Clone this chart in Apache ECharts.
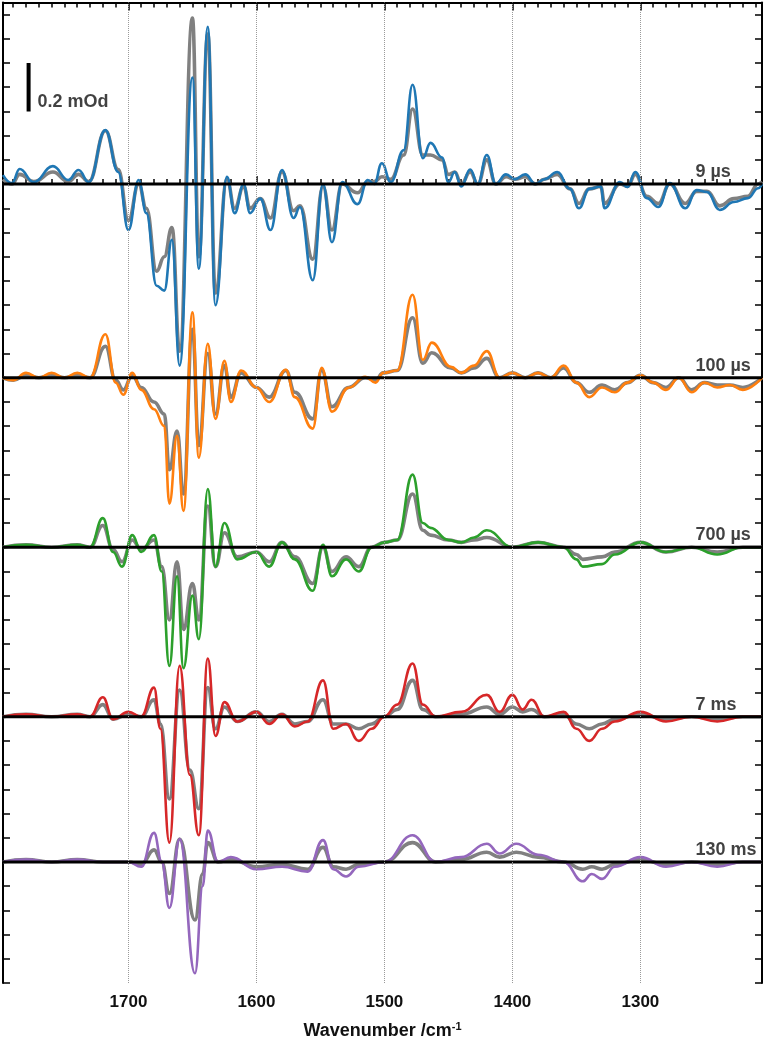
<!DOCTYPE html>
<html><head><meta charset="utf-8">
<script src="https://cdn.jsdelivr.net/npm/echarts@6/dist/echarts.min.js"></script>
<style>html,body{margin:0;padding:0;background:#fff}#c{width:764px;height:1045px}</style>
</head><body><div id="c"></div>
<script>
// ---- data ----
const delays = ['9 µs', '100 µs', '700 µs', '7 ms', '130 ms'];
const offsets = [0, -0.8, -1.5, -2.2, -2.8];          // baseline of each trace (mOd)
const gridWavenumbers = [1700, 1600, 1500, 1400, 1300];
const tickLabels = [1700, 1600, 1500, 1400, 1300];

const wn9 = [1798,1791,1785,1774,1759,1747,1739,1731,1718,1708,1700,1692,1686,1678,1672,1666,1660,1650,1645,1638,1632,1623,1617,1610,1605,1597,1589,1580,1571,1566,1556,1548,1541,1533,1521,1513,1508,1502,1495,1485,1478,1470,1464,1455,1450,1445,1440,1433,1427,1420,1413,1405,1398,1390,1382,1375,1365,1355,1348,1340,1331,1328,1316,1310,1304,1295,1286,1277,1265,1256,1248,1238,1227,1216,1208,1205];
const col9 = [0.037,0.004,0.062,0.008,0.074,0.017,0.058,0.008,0.223,0.05,-0.19,0.017,-0.12,-0.42,-0.44,-0.23,-0.75,0.44,-0.35,0.65,-0.50,0.03,-0.12,0.0,-0.12,-0.06,-0.19,0.058,-0.14,-0.095,-0.397,0.0,-0.24,0.008,-0.083,0.017,0.0,0.086,0.008,0.14,0.41,0.107,0.17,0.11,0.008,0.05,-0.01,0.06,0.0,0.12,0.0,0.04,0.02,0.04,0.0,0.02,0.05,-0.02,-0.1,-0.02,-0.01,-0.1,0.008,-0.012,0.05,-0.058,-0.095,0.004,-0.1,-0.025,-0.033,-0.107,-0.074,-0.058,-0.017,0.0];
const gray9 = [0.02,0.0,0.04,0.01,0.05,0.01,0.04,0.01,0.22,0.06,-0.15,0.0,-0.10,-0.36,-0.30,-0.18,-0.69,0.686,-0.3,0.62,-0.45,0.02,-0.10,-0.01,-0.1,-0.06,-0.14,0.05,-0.11,-0.09,-0.31,-0.01,-0.19,0.0,-0.036,0.01,0.01,0.03,0.02,0.12,0.31,0.12,0.12,0.1,0.04,0.05,0.0,0.05,0.0,0.1,0.0,0.03,0.02,0.03,0.0,0.02,0.04,-0.02,-0.08,-0.02,-0.01,-0.08,0.0,-0.01,0.04,-0.05,-0.08,0.0,-0.08,-0.03,-0.03,-0.09,-0.06,-0.05,0.0,0.01];

const wn100 = [1798,1790,1780,1770,1760,1750,1740,1730,1718,1710,1704,1697,1690,1680,1672,1668,1662,1657,1650,1645,1638,1632,1625,1620,1612,1600,1590,1577,1570,1556,1549,1541,1528,1515,1507,1501,1490,1478,1470,1463,1448,1440,1430,1420,1410,1400,1390,1380,1370,1360,1350,1340,1330,1320,1310,1300,1290,1280,1270,1260,1250,1240,1230,1220,1205];
const col100 = [0.0,-0.01,0.02,0.0,0.02,0.0,0.02,0.0,0.18,-0.02,-0.07,0.02,-0.05,-0.13,-0.2,-0.52,-0.24,-0.55,0.27,-0.33,0.14,-0.17,0.07,-0.1,0.03,-0.04,-0.1,0.033,-0.08,-0.21,0.041,-0.14,-0.041,0.004,-0.02,0.02,0.03,0.343,0.074,0.145,0.045,0.02,0.05,0.11,0.0,0.02,0.0,0.02,0.0,0.05,-0.02,-0.08,-0.04,-0.06,-0.02,0.01,-0.02,-0.05,0.0,-0.06,-0.02,-0.04,-0.03,-0.05,0.0];
const gray100 = [0.0,-0.01,0.01,0.0,0.01,0.0,0.01,0.0,0.13,-0.01,-0.05,0.01,-0.04,-0.1,-0.15,-0.38,-0.22,-0.48,0.2,-0.28,0.1,-0.15,0.05,-0.08,0.02,-0.04,-0.08,0.03,-0.06,-0.17,0.03,-0.12,-0.04,0.0,-0.01,0.02,0.03,0.248,0.06,0.103,0.04,0.02,0.04,0.08,0.0,0.02,0.0,0.02,0.0,0.04,-0.02,-0.06,-0.03,-0.05,-0.02,0.01,-0.02,-0.04,0.0,-0.05,-0.02,-0.03,-0.03,-0.04,0.0];

const wn700 = [1798,1780,1760,1740,1730,1720,1712,1705,1697,1690,1680,1674,1668,1662,1657,1650,1645,1638,1632,1625,1615,1600,1590,1580,1570,1556,1548,1541,1530,1520,1510,1500,1490,1478,1470,1464,1450,1440,1430,1420,1400,1380,1360,1350,1345,1330,1320,1300,1280,1260,1240,1220,1205];
const col700 = [0.0,0.01,0.0,0.01,0.0,0.12,-0.02,-0.08,0.05,-0.02,0.05,-0.1,-0.49,-0.12,-0.5,-0.2,-0.38,0.24,-0.08,0.1,-0.05,-0.02,-0.08,0.02,-0.05,-0.18,0.01,-0.12,-0.05,-0.1,0.0,0.02,0.03,0.3,0.1,0.08,0.03,0.02,0.04,0.07,0.0,0.02,0.0,-0.05,-0.08,-0.07,-0.03,0.02,-0.02,0.0,-0.03,0.0,0.0];
const gray700 = [0.0,0.01,0.0,0.01,0.0,0.09,-0.01,-0.06,0.03,-0.01,0.03,-0.08,-0.3,-0.06,-0.34,-0.15,-0.3,0.17,-0.08,0.06,-0.04,-0.02,-0.06,0.02,-0.04,-0.15,0.0,-0.1,-0.04,-0.08,0.0,0.02,0.03,0.22,0.07,0.05,0.03,0.02,0.03,0.04,0.0,0.02,0.0,-0.03,-0.05,-0.04,-0.02,0.02,-0.02,0.0,-0.02,0.0,0.0];

const wn7 = [1798,1780,1760,1740,1730,1720,1712,1700,1690,1680,1675,1668,1660,1652,1645,1638,1632,1625,1615,1600,1590,1580,1570,1560,1548,1540,1530,1520,1510,1500,1490,1478,1470,1460,1440,1420,1410,1400,1392,1385,1375,1360,1350,1340,1330,1320,1300,1280,1260,1240,1220,1205];
const col7 = [0.0,0.01,0.0,0.01,0.0,0.08,-0.01,0.02,0.0,0.12,-0.05,-0.52,0.21,-0.24,-0.49,0.24,-0.08,0.06,-0.02,0.02,-0.03,0.01,-0.04,-0.02,0.15,-0.05,-0.03,-0.1,-0.05,0.0,0.05,0.22,0.05,0.0,0.02,0.09,0.02,0.09,0.03,0.07,0.0,0.02,-0.05,-0.1,-0.05,-0.02,0.02,-0.02,0.0,-0.02,0.0,0.0];
const gray7 = [0.0,0.01,0.0,0.01,0.0,0.05,-0.01,0.01,0.0,0.07,-0.03,-0.34,0.11,-0.22,-0.38,0.12,-0.05,0.04,-0.02,0.02,-0.02,0.01,-0.03,-0.02,0.07,-0.03,-0.03,-0.05,-0.03,0.0,0.03,0.15,0.03,0.0,0.01,0.04,0.01,0.04,0.02,0.03,0.0,0.01,-0.03,-0.05,-0.03,-0.01,0.01,-0.01,0.0,-0.01,0.0,0.0];

const wn130 = [1798,1780,1760,1740,1720,1700,1690,1680,1674,1668,1660,1648,1642,1638,1630,1620,1600,1580,1560,1548,1540,1530,1520,1500,1478,1460,1440,1420,1410,1397,1380,1360,1345,1338,1330,1320,1300,1280,1260,1240,1220,1205];
const col130 = [0.0,0.01,0.0,0.01,0.0,0.0,-0.02,0.12,0.0,-0.19,0.095,-0.46,-0.1,0.13,0.0,0.02,-0.03,-0.02,-0.04,0.09,-0.03,-0.06,-0.02,0.0,0.11,0.0,0.02,0.075,0.035,0.075,0.03,0.0,-0.08,-0.05,-0.07,-0.02,0.02,-0.02,0.0,-0.02,0.0,0.0];
const gray130 = [0.0,0.01,0.0,0.01,0.0,0.0,-0.01,0.05,0.0,-0.13,0.095,-0.24,-0.05,0.08,0.0,0.01,-0.02,-0.01,-0.03,0.06,-0.02,-0.03,-0.01,0.0,0.08,0.0,0.01,0.04,0.02,0.04,0.02,0.0,-0.03,-0.02,-0.03,-0.01,0.01,-0.01,0.0,-0.01,0.0,0.0];

const traces = [[wn9, col9, gray9], [wn100, col100, gray100], [wn700, col700, gray700], [wn7, col7, gray7], [wn130, col130, gray130]];
const scaleBar = [0.3, 0.5];   // 0.2 mOd
// ---- styles ----
const colors = ['#1f77b4', '#ff7f0e', '#2ca02c', '#d62728', '#9467bd'];
const GRAY = '#808080';
const X_MIN = 1205, X_MAX = 1798, Y_MIN = -3.3, Y_MAX = 0.75;
const FONT = 'Liberation Sans, Arial, sans-serif';

const minorTicks = [];
for (let w = 1210; w <= 1790; w += 10) minorTicks.push(w);

function xAx(pos, major, withLabel) {
  return {
    type: 'value', position: pos, min: X_MIN, max: X_MAX, inverse: true,
    axisLine: { show: major, lineStyle: { color: '#000', width: 2 } },
    axisTick: { show: true, inside: true, length: major ? 8 : 5, lineStyle: { color: '#000', width: 1.5 },
      customValues: major ? tickLabels : minorTicks },
    axisLabel: { show: withLabel, customValues: tickLabels, color: '#111', fontFamily: FONT,
      fontWeight: 'bold', fontSize: 17, margin: 11, formatter: v => String(v) },
    splitLine: { show: false },
    name: withLabel ? '{a|Wavenumber /cm}{s|-1}' : '',
    nameLocation: 'middle', nameGap: 38,
    nameTextStyle: { rich: {
      a: { fontFamily: FONT, fontWeight: 'bold', fontSize: 18, color: '#111', lineHeight: 20 },
      s: { fontFamily: FONT, fontWeight: 'bold', fontSize: 11, color: '#111', verticalAlign: 'top', lineHeight: 20, padding: [0,0,8,0] }
    } }
  };
}
function yAx(pos) {
  return {
    type: 'value', position: pos, min: Y_MIN, max: Y_MAX, interval: 0.1,
    axisLine: { show: true, lineStyle: { color: '#000', width: 2 } },
    axisTick: { show: true, inside: true, length: 7, lineStyle: { color: '#000', width: 1.5 } },
    axisLabel: { show: false }, splitLine: { show: false }
  };
}

const series = [];
series.push({ type: 'line', data: [], xAxisIndex: 0, yAxisIndex: 0, silent: true,
  markLine: { silent: true, symbol: 'none', label: { show: false },
    lineStyle: { type: 'dotted', color: '#9a9a9a', width: 1 },
    data: gridWavenumbers.map(w => ({ xAxis: w })) } });

traces.forEach(([wn, col, gr], i) => {
  const off = offsets[i];
  series.push({ type: 'line', smooth: 0.45, smoothMonotone: 'x', showSymbol: false, symbol: 'none', z: 2,
    lineStyle: { color: GRAY, width: 3.6 }, data: wn.map((w, k) => [w, gr[k] + off]) });
  series.push({ type: 'line', smooth: 0.45, smoothMonotone: 'x', showSymbol: false, symbol: 'none', z: 3,
    lineStyle: { color: colors[i], width: 2.6 }, data: wn.map((w, k) => [w, col[k] + off]) });
  series.push({ type: 'line', showSymbol: false, symbol: 'none', z: 4,
    lineStyle: { color: '#000', width: 3 }, data: [[X_MAX, off], [X_MIN, off]] });
  series.push({ type: 'scatter', symbolSize: 0, z: 5, data: [[1257, off + 0.012]],
    label: { show: true, formatter: delays[i], position: [0, 0], align: 'left', verticalAlign: 'bottom',
      fontFamily: FONT, fontWeight: 'bold', fontSize: 18, color: '#111' } });
});
series.push({ type: 'line', showSymbol: false, symbol: 'none', z: 5,
  lineStyle: { color: '#000', width: 4 }, data: [[1778, scaleBar[0]], [1778, scaleBar[1]]] });
series.push({ type: 'scatter', symbolSize: 0, z: 5, data: [[1771, scaleBar[0]]],
  label: { show: true, formatter: '0.2 mOd', position: [0, 0], align: 'left', verticalAlign: 'bottom',
    fontFamily: FONT, fontWeight: 'bold', fontSize: 18, color: '#111' } });

const chart = echarts.init(document.getElementById('c'), null, { renderer: 'canvas' });
chart.setOption({
  animation: false, backgroundColor: '#fff',
  grid: { left: 3, right: 2, top: 2.5, bottom: 62, containLabel: false },
  xAxis: [xAx('bottom', false, false), xAx('bottom', true, true), xAx('top', false, false), xAx('top', true, false)],
  yAxis: [yAx('left'), yAx('right')],
  series: series
});
</script></body></html>
